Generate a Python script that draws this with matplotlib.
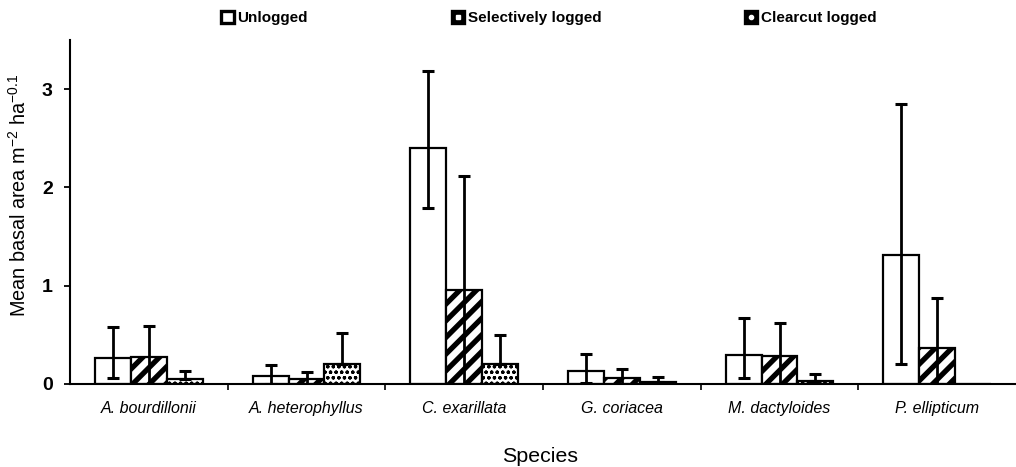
import matplotlib
matplotlib.use("Agg")
import matplotlib.pyplot as plt
from matplotlib.patches import Patch
import numpy as np

species = ["A. bourdillonii", "A. heterophyllus", "C. exarillata",
           "G. coriacea", "M. dactyloides", "P. ellipticum"]
series_names = ["Unlogged", "Selectively logged", "Clearcut logged"]

unlogged = [0.26, 0.08, 2.40, 0.135, 0.30, 1.31]
unlogged_hi = [0.58, 0.19, 3.18, 0.305, 0.675, 2.85]
unlogged_lo = [0.06, 0.0, 1.79, 0.01, 0.06, 0.20]

selective = [0.27, 0.05, 0.96, 0.06, 0.28, 0.37]
selective_hi = [0.59, 0.125, 2.12, 0.15, 0.62, 0.87]
selective_lo = [0.0, 0.0, 0.0, 0.0, 0.0, 0.0]

clearcut = [0.05, 0.20, 0.20, 0.02, 0.035, 0.0]
clearcut_hi = [0.135, 0.52, 0.50, 0.07, 0.105, 0.0]
clearcut_lo = [0.05, 0.20, 0.20, 0.02, 0.035, 0.0]

yticks = [0, 1, 2, 3]

plt.rcParams['font.family'] = ['Liberation Sans', 'DejaVu Sans']
plt.rcParams['mathtext.default'] = 'regular'

fig = plt.figure(figsize=(10.16, 4.67), dpi=100)
ax = fig.add_axes([70 / 1016, 1 - 384 / 467, 946 / 1016, (384 - 40) / 467])

centers = np.arange(len(species)) + 0.5
w = 0.228
offsets = [-w, 0.0, w]
vals = [unlogged, selective, clearcut]
his = [unlogged_hi, selective_hi, clearcut_hi]
los = [unlogged_lo, selective_lo, clearcut_lo]
hatches = [None, '//', 'ooo']
hlw = [1.0, 3.8, 0.9]

for k in range(3):
    v = np.array(vals[k], dtype=float)
    with plt.rc_context({'hatch.linewidth': hlw[k]}):
        bars = ax.bar(centers + offsets[k], v, width=w, color='white',
                      edgecolor='black', linewidth=1.6, hatch=hatches[k], zorder=2)
        for b in bars:
            if hasattr(b, 'set_hatch_linewidth'):
                b.set_hatch_linewidth(hlw[k])
    hi = np.array(his[k], dtype=float)
    lo = np.array(los[k], dtype=float)
    mask = hi > 0
    yerr = np.vstack([v - lo, hi - v])[:, mask]
    ax.errorbar((centers + offsets[k])[mask], v[mask], yerr=yerr, fmt='none',
                ecolor='black', elinewidth=2.0, capsize=4.5, capthick=2.2, zorder=3)

ax.set_xlim(0, 6)
ax.set_ylim(0, 3.5)
for s in ['top', 'right']:
    ax.spines[s].set_visible(False)
ax.spines['left'].set_linewidth(1.5)
ax.spines['bottom'].set_linewidth(1.5)

ax.set_yticks(yticks)
ax.set_yticklabels([str(t) for t in yticks], fontsize=14, fontweight='bold')
ax.tick_params(axis='y', direction='out', length=4, width=1.3, pad=8.5)

ax.set_xticks(centers)
ax.set_xticklabels(species, fontsize=11.5, fontstyle='italic')
ax.tick_params(axis='x', which='major', length=0, pad=12)
ax.set_xticks(np.arange(1, 6), minor=True)
ax.tick_params(axis='x', which='minor', direction='out', length=4, width=1.2)

fig.text(19 / 1016, 1 - 195 / 467, r"Mean basal area m$^{-2}$ ha$^{-0.1}$",
         rotation=90, ha='center', va='center', fontsize=14.3)
fig.text(540 / 1016, 1 - 456 / 467, "Species", ha='center', va='center', fontsize=15.4)

legend_faces = ['white', 'black', 'black']
handles = []
for k in range(3):
    p = Patch(facecolor=legend_faces[k], edgecolor='black', linewidth=2.4,
              label=series_names[k])
    handles.append(p)
leg = fig.legend(handles=handles, ncol=3, loc='center', bbox_to_anchor=(549 / 1016, 1 - 18 / 467),
                 frameon=False, prop={'size': 11, 'weight': 'bold'},
                 handlelength=0.8, handleheight=0.8, handletextpad=0.25, columnspacing=9.4)

# small white marks inside the legend boxes for the filled entries
fig.canvas.draw()
for k, mark in [(1, 's'), (2, 'o')]:
    bb = leg.legend_handles[k].get_window_extent()
    cx, cy = (bb.x0 + bb.x1) / 2, (bb.y0 + bb.y1) / 2
    fig.add_artist(plt.Line2D([cx / 1016], [cy / 467], transform=fig.transFigure,
                              marker=mark, markersize=3, color='white',
                              linestyle='none', zorder=10))

fig.savefig("out.png", dpi=100)
